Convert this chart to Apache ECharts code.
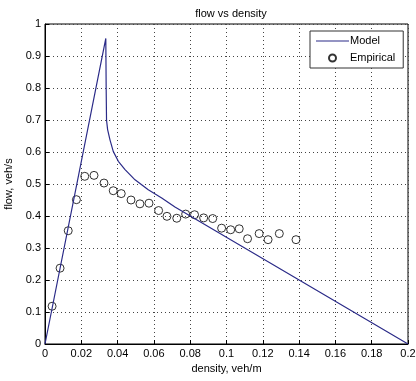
<!DOCTYPE html>
<html>
<head>
<meta charset="utf-8">
<script src="https://cdn.jsdelivr.net/npm/echarts@6/dist/echarts.min.js"></script>
<style>html,body{margin:0;padding:0;background:#fff}#c{width:416px;height:381px}</style>
</head>
<body>
<div id="c"></div>
<script>
// Model curve (density, flow)
const modelDensity = [0, 0.0335, 0.0337, 0.0339, 0.0345, 0.0358, 0.0376, 0.0404, 0.0441, 0.0496, 0.0569, 0.0643, 0.0716, 0.2];
const modelFlow    = [0, 0.955, 0.8, 0.7, 0.67, 0.638, 0.602, 0.571, 0.545, 0.513, 0.482, 0.456, 0.428, 0];
// Empirical points
const empDensity = [0.0039, 0.0083, 0.0128, 0.0173, 0.0219, 0.027, 0.0325, 0.0376, 0.042, 0.0474, 0.0523, 0.0573, 0.0626, 0.0672, 0.0726, 0.0775, 0.0824, 0.0874, 0.0924, 0.0973, 0.1023, 0.107, 0.1116, 0.118, 0.1229, 0.1291, 0.1383];
const empFlow    = [0.118, 0.237, 0.354, 0.451, 0.524, 0.527, 0.503, 0.479, 0.470, 0.450, 0.438, 0.440, 0.417, 0.399, 0.393, 0.406, 0.404, 0.394, 0.392, 0.362, 0.357, 0.360, 0.329, 0.345, 0.326, 0.345, 0.326];
// Tick labels
const xTickLabels = ['0', '0.02', '0.04', '0.06', '0.08', '0.1', '0.12', '0.14', '0.16', '0.18', '0.2'];
const yTickLabels = ['0', '0.1', '0.2', '0.3', '0.4', '0.5', '0.6', '0.7', '0.8', '0.9', '1'];

const font = 'Liberation Sans, Arial, sans-serif';
const chart = echarts.init(document.getElementById('c'), null, {renderer: 'canvas'});
const gridLine = {show: true, lineStyle: {color: '#444', type: [1, 3], width: 1}};
chart.setOption({
  animation: false,
  backgroundColor: '#fff',
  title: {
    text: 'flow vs density',
    left: 226, top: 3, textAlign: 'center',
    textStyle: {fontFamily: font, fontSize: 11, fontWeight: 'normal', color: '#000'}
  },
  grid: {left: 45, right: 8, top: 24, bottom: 37, outerBoundsMode: 'none', containLabel: false,
    show: true, borderColor: '#000', borderWidth: 1, backgroundColor: 'transparent'},
  legend: {
    orient: 'vertical', left: 310, top: 31,
    padding: [3, 8, 3, 6], itemGap: 3, itemWidth: 33, itemHeight: 7,
    borderColor: '#333', borderWidth: 1, backgroundColor: '#fff',
    textStyle: {fontFamily: font, fontSize: 11, color: '#000', padding: [0, 0, 0, -4], lineHeight: 14},
    data: [
      {name: 'Model', icon: 'path://M0,0 L33,0 L33,1 L0,1 Z'},
      {name: 'Empirical', icon: 'emptyCircle', itemStyle: {color: '#000', borderColor: '#000', borderWidth: 1}}
    ]
  },
  xAxis: {
    type: 'value', min: 0, max: 0.2, interval: 0.02,
    name: 'density, veh/m', nameLocation: 'middle', nameGap: 19,
    nameTextStyle: {fontFamily: font, fontSize: 11, color: '#000'},
    axisLine: {lineStyle: {color: '#000'}},
    axisTick: {inside: true, length: 4, lineStyle: {color: '#000'}},
    axisLabel: {fontFamily: font, fontSize: 11, color: '#000', margin: 4,
      formatter: v => xTickLabels[Math.round(v / 0.02)]},
    splitLine: gridLine
  },
  yAxis: {
    type: 'value', min: 0, max: 1, interval: 0.1,
    name: 'flow, veh/s', nameLocation: 'middle', nameGap: 29,
    nameTextStyle: {fontFamily: font, fontSize: 11, color: '#000'},
    axisLine: {show: true, lineStyle: {color: '#000'}},
    axisTick: {show: true, inside: true, length: 4, lineStyle: {color: '#000'}},
    axisLabel: {fontFamily: font, fontSize: 11, color: '#000', margin: 4,
      formatter: v => yTickLabels[Math.round(v / 0.1)]},
    splitLine: gridLine
  },
  series: [
    {
      name: 'Model', type: 'line', showSymbol: false, symbol: 'none',
      data: modelDensity.map((d, i) => [d, modelFlow[i]]),
      lineStyle: {color: '#2b2b88', width: 1.2},
      itemStyle: {color: '#2b2b88'}
    },
    {
      name: 'Empirical', type: 'scatter', symbol: 'circle', symbolSize: 8,
      data: empDensity.map((d, i) => [d, empFlow[i]]),
      itemStyle: {color: 'transparent', borderColor: '#000', borderWidth: 1}
    }
  ]
});
</script>
</body>
</html>
